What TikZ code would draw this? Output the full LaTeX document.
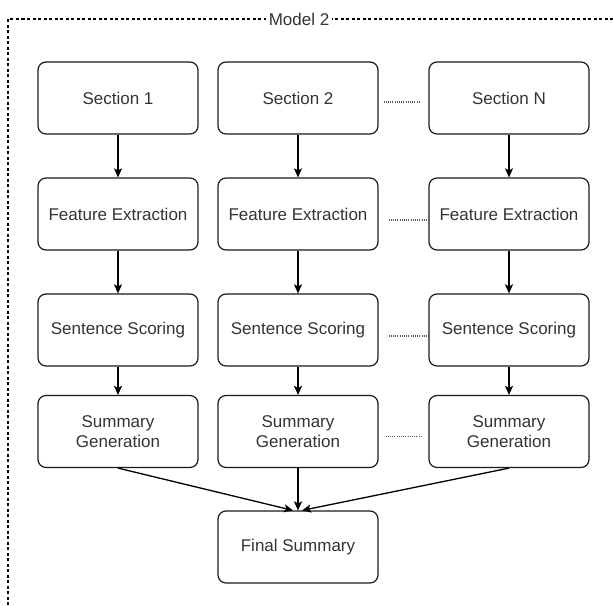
\documentclass[tikz,border=0pt]{standalone}
\usepackage{fontspec}
\setmainfont{Liberation Sans}
\usetikzlibrary{arrows.meta}
\definecolor{txt}{HTML}{333333}
\definecolor{edge}{HTML}{1A1A1A}
\begin{document}
\begin{tikzpicture}[x=1pt,y=-1pt,
  box/.style={draw=edge, line width=1.2pt, rounded corners=8pt, minimum width=160pt, minimum height=72pt,
    text=txt, font=\fontsize{17}{20}\selectfont, align=center, inner sep=0pt},
  arr/.style={draw=black, line width=1.3pt, -{Stealth[length=9pt,width=8pt,inset=2pt]}},
  dots/.style={draw=black!65, line width=1.1pt, dash pattern=on 1pt off 1.2pt},
  frame/.style={draw=black, line width=1.3pt, dash pattern=on 3pt off 2.5pt}]
\useasboundingbox (0,0) rectangle (613,605);
% frame
\coordinate (ftl) at (8,19);
\coordinate (ftr) at (613,19);
\coordinate (fbl) at (8,605);
\draw[frame] (fbl) -- (ftl) -- (ftr);
\node[fill=white, text=txt, font=\fontsize{17}{20}\selectfont, inner sep=3pt] (lbl) at (299,19) {Model 2};
% boxes
\foreach \c/\x in {1/118,2/298,3/509}{
  \node[box] (sec\c) at (\x,98) {Section \ifnum\c=3 N\else\c\fi};
  \node[box] (fe\c) at (\x,214) {Feature Extraction};
  \node[box] (ss\c) at (\x,330) {Sentence Scoring};
  \node[box] (sg\c) at (\x,431.5) {Summary\\[0pt]Generation};
  \draw[arr] (sec\c) -- (fe\c);
  \draw[arr] (fe\c) -- (ss\c);
  \draw[arr] (ss\c) -- (sg\c);
}
\node[box] (fs) at (298,547) {Final Summary};
% dotted links
\draw[dots] ([xshift=5pt,yshift=-4pt]sec2.east) -- ([xshift=-9pt,yshift=-4pt]sec3.west);
\draw[dots] ([xshift=10pt,yshift=-6pt]fe2.east) -- ([xshift=-2pt,yshift=-6pt]fe3.west);
\draw[dots] ([xshift=10pt,yshift=-6pt]ss2.east) -- ([xshift=-2pt,yshift=-6pt]ss3.west);
\draw[dots] ([xshift=7pt,yshift=-5pt]sg2.east) -- ([xshift=-6pt,yshift=-5pt]sg3.west);
% to final
\draw[arr] (sg1.south) -- ([xshift=-5pt]fs.north);
\draw[arr] (sg2.south) -- (fs.north);
\draw[arr] (sg3.south) -- ([xshift=4pt]fs.north);
\end{tikzpicture}
\end{document}
